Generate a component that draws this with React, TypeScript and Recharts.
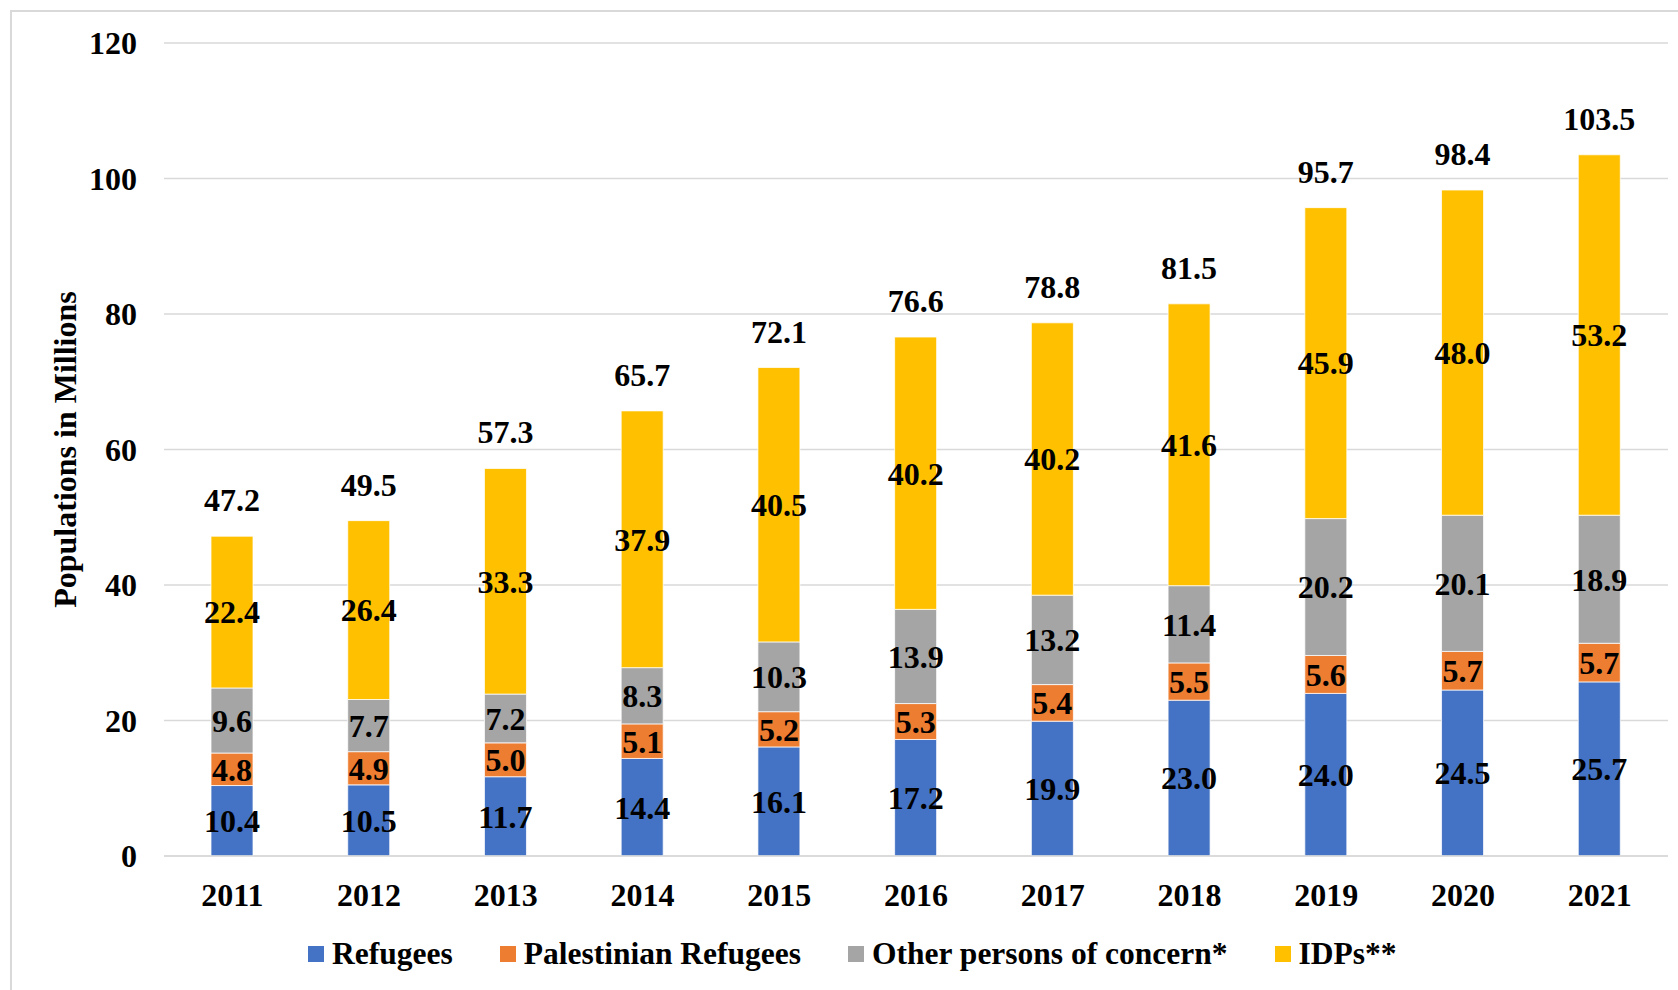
import React from 'react';
import { BarChart, Bar, XAxis, YAxis, CartesianGrid, LabelList, Legend } from 'recharts';

const years = ['2011', '2012', '2013', '2014', '2015', '2016', '2017', '2018', '2019', '2020', '2021'];
const refugees = [10.4, 10.5, 11.7, 14.4, 16.1, 17.2, 19.9, 23.0, 24.0, 24.5, 25.7];
const palestinian = [4.8, 4.9, 5.0, 5.1, 5.2, 5.3, 5.4, 5.5, 5.6, 5.7, 5.7];
const others = [9.6, 7.7, 7.2, 8.3, 10.3, 13.9, 13.2, 11.4, 20.2, 20.1, 18.9];
const idps = [22.4, 26.4, 33.3, 37.9, 40.5, 40.2, 40.2, 41.6, 45.9, 48.0, 53.2];
const totals = [47.2, 49.5, 57.3, 65.7, 72.1, 76.6, 78.8, 81.5, 95.7, 98.4, 103.5];
const yTicks = [0, 20, 40, 60, 80, 100, 120];

const series = [
  { key: 'refugees', name: 'Refugees', color: '#4472C4' },
  { key: 'palestinian', name: 'Palestinian Refugees', color: '#ED7D31' },
  { key: 'others', name: 'Other persons of concern*', color: '#A5A5A5' },
  { key: 'idps', name: 'IDPs**', color: '#FFC000' },
];

const data = years.map((y, i) => ({
  year: y,
  refugees: refugees[i],
  palestinian: palestinian[i],
  others: others[i],
  idps: idps[i],
  total: totals[i],
}));

const FONT = '"Liberation Serif", "Times New Roman", serif';
const FS = 32;
const fmt = (v: any) => Number(v).toFixed(1);

const labelStyle = { fill: '#000', fontSize: FS, fontWeight: 700, fontFamily: FONT };

const LegendContent = () => (
  <div style={{ display: 'flex', alignItems: 'center', fontFamily: FONT, fontWeight: 700, fontSize: 31.5, color: '#000', whiteSpace: 'nowrap' }}>
    {series.map((s, i) => (
      <div key={s.key} style={{ display: 'flex', alignItems: 'center', marginRight: i < series.length - 1 ? 47 : 0 }}>
        <div style={{ width: 16, height: 16, background: s.color, marginRight: 8 }} />
        <span style={{ lineHeight: '36px' }}>{s.name}</span>
      </div>
    ))}
  </div>
);

export default function App() {
  return (
    <div style={{ position: 'absolute', left: 0, top: 0, width: 1678, height: 990, background: '#fff', overflow: 'hidden' }}>
      <div style={{ position: 'absolute', left: 10, top: 10, width: 1700, height: 1000, borderLeft: '2px solid #d9d9d9', borderTop: '2px solid #d9d9d9' }} />
      <BarChart
        width={1678}
        height={990}
        data={data}
        margin={{ top: 43, right: 10, bottom: 104, left: 0 }}
        barSize={42}
        style={{ position: 'absolute', left: 0, top: 0 }}
      >
        <CartesianGrid vertical={false} stroke="#d9d9d9" strokeWidth={1.5} />
        <XAxis
          dataKey="year"
          height={30}
          axisLine={{ stroke: '#d9d9d9', strokeWidth: 1.5 }}
          tickLine={false}
          tickMargin={21}
          tick={{ fill: '#000', fontSize: FS, fontWeight: 700, fontFamily: FONT }}
          interval={0}
        />
        <YAxis
          width={164}
          domain={[0, 120]}
          ticks={yTicks}
          axisLine={false}
          tickLine={false}
          tickMargin={21}
          tick={{ fill: '#000', fontSize: FS, fontWeight: 700, fontFamily: FONT }}
          label={{
            value: 'Populations in Millions',
            angle: -90,
            position: 'insideLeft',
            offset: 0,
            dx: 65,
            style: { textAnchor: 'middle', fill: '#000', fontSize: FS, fontWeight: 700, fontFamily: FONT },
          }}
        />
        <Legend
          layout="horizontal"
          verticalAlign="middle"
          align="center"
          content={<LegendContent />}
          wrapperStyle={{ left: 308, top: 936, width: 1250, height: 36 }}
        />
        {series.map((s, idx) => (
          <Bar
            key={s.key}
            dataKey={s.key}
            name={s.name}
            stackId="a"
            fill={s.color}
            stroke="#ffffff"
            strokeWidth={0.75}
            isAnimationActive={false}
          >
            <LabelList dataKey={s.key} position="center" formatter={fmt} style={labelStyle} />
            {idx === series.length - 1 ? (
              <LabelList dataKey="total" position="top" offset={25} formatter={fmt} style={labelStyle} />
            ) : null}
          </Bar>
        ))}
      </BarChart>
    </div>
  );
}
